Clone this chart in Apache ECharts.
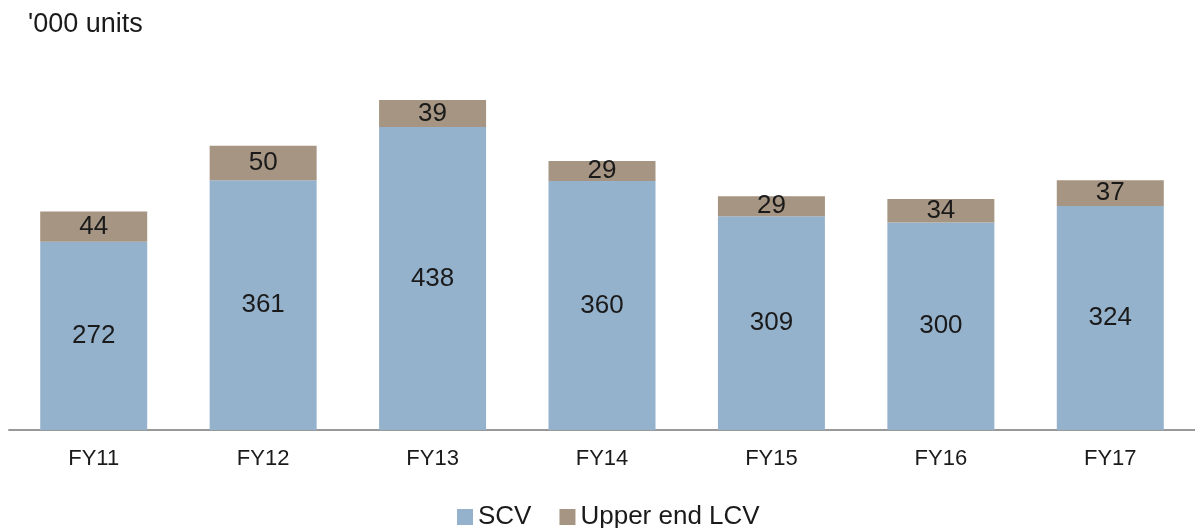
<!DOCTYPE html>
<html>
<head>
<meta charset="utf-8">
<script src="https://cdn.jsdelivr.net/npm/echarts@6/dist/echarts.min.js"></script>
<style>
html,body{margin:0;padding:0;background:#fff;}
#c{width:1195px;height:528px;}
</style>
</head>
<body>
<div id="c"></div>
<script>
var categories = ['FY11','FY12','FY13','FY14','FY15','FY16','FY17'];
var scv = [272, 361, 438, 360, 309, 300, 324];
var lcv = [44, 50, 39, 29, 29, 34, 37];
var seriesNames = ['SCV', 'Upper end LCV'];
var unitLabel = "'000 units";

var FONT = '"Liberation Sans", Arial, sans-serif';
var chart = echarts.init(document.getElementById('c'));
chart.setOption({
  animation: false,
  backgroundColor: '#ffffff',
  title: {
    text: unitLabel, left: 23, top: 6,
    textStyle: {fontFamily: FONT, fontSize: 27, fontWeight: 'normal', color: '#1a1a1a'}
  },
  legend: {
    bottom: -7, left: 452,
    itemWidth: 16, itemHeight: 16, itemGap: 28,
    icon: 'rect',
    textStyle: {fontFamily: FONT, fontSize: 26, color: '#1a1a1a'},
    data: seriesNames
  },
  grid: {left: 9, right: -11, top: 15, bottom: 98, containLabel: false},
  xAxis: {
    type: 'category', data: categories,
    axisLine: {lineStyle: {color: '#999999', width: 2}},
    axisTick: {show: false},
    axisLabel: {fontFamily: FONT, fontSize: 22, color: '#1a1a1a', margin: 18}
  },
  yAxis: {type: 'value', min: 0, max: 600, show: false, splitLine: {show: false}},
  series: [
    {
      name: seriesNames[0], type: 'bar', stack: 'a', data: scv, barWidth: 107,
      itemStyle: {color: '#95B2CD'},
      label: {show: true, position: 'inside', fontFamily: FONT, fontSize: 26, color: '#1a1a1a'}
    },
    {
      name: seriesNames[1], type: 'bar', stack: 'a', data: lcv, barWidth: 107,
      itemStyle: {color: '#A69582'},
      label: {show: true, position: 'inside', fontFamily: FONT, fontSize: 26, color: '#1a1a1a'}
    }
  ]
});
</script>
</body>
</html>
